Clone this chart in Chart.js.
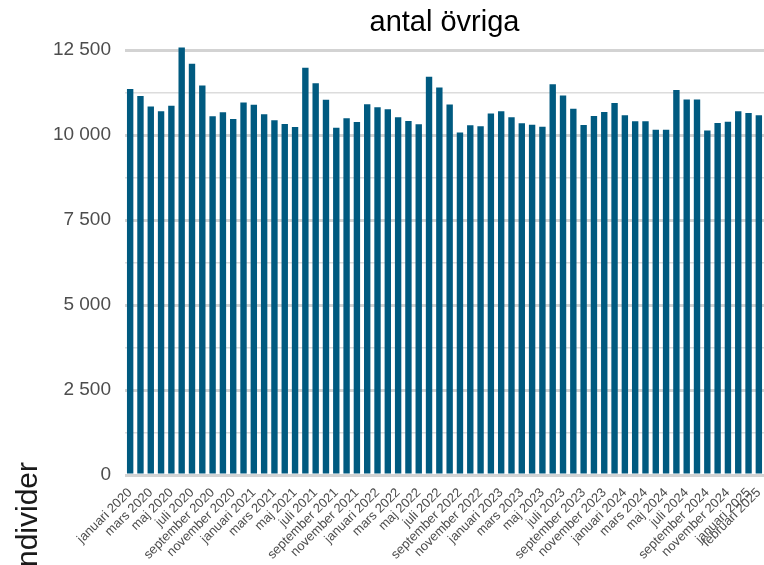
<!DOCTYPE html>
<html lang="sv">
<head>
<meta charset="UTF-8">
<title>antal övriga</title>
<script src="https://cdn.jsdelivr.net/npm/chart.js@4/dist/chart.umd.min.js"></script>
<style>
  html, body { margin: 0; padding: 0; background: #fff; }
  .wrap { width: 764px; height: 565px; }
</style>
</head>
<body>
<div class="wrap"><canvas id="grafico"></canvas></div>
<script>
// månader jan 2020 - feb 2025
var manader = ['januari', 'februari', 'mars', 'april', 'maj', 'juni', 'juli',
               'augusti', 'september', 'oktober', 'november', 'december'];
var ar = [2020, 2021, 2022, 2023, 2024, 2025];

var antal = [
  11360, 11150, 10840, 10705, 10863, 12580, 12104, 11458, 10556, 10675, 10476, 10962,
  10893, 10615, 10437, 10327, 10238, 11985, 11527, 11042, 10218, 10496, 10387, 10913,
  10824, 10765, 10527, 10417, 10318, 11717, 11399, 10903, 10080, 10289, 10259, 10635,
  10705, 10527, 10348, 10307, 10248, 11498, 11170, 10774, 10298, 10566, 10685, 10943,
  10586, 10408, 10408, 10158, 10158, 11330, 11051, 11051, 10140, 10357, 10396, 10705,
  10655, 10586
];

var yTicks = [0, 1250, 2500, 3750, 5000, 6250, 7500, 8750, 10000, 11250, 12500];

var etiketter = [];
for (var i = 0; i < antal.length; i++) {
  etiketter.push(manader[i % 12] + ' ' + ar[Math.floor(i / 12)]);
}

function tusental(v) {
  return String(v).replace(/\B(?=(\d{3})+(?!\d))/g, ' ');
}

// y-axelns titel, delvis utanför bilden som i originalet
var yTitel = {
  id: 'yTitel',
  afterDraw: function (chart) {
    var ctx = chart.ctx;
    ctx.save();
    ctx.translate(37, 462);
    ctx.rotate(-Math.PI / 2);
    ctx.font = '30px "Liberation Sans", Arial, sans-serif';
    ctx.fillStyle = '#1a1a1a';
    ctx.textAlign = 'right';
    ctx.textBaseline = 'alphabetic';
    ctx.fillText('individer', 0, 0);
    ctx.restore();
  }
};

var ctx = document.getElementById('grafico').getContext('2d');
new Chart(ctx, {
  type: 'bar',
  data: {
    labels: etiketter,
    datasets: [{
      label: 'antal',
      data: antal,
      backgroundColor: '#005a80',
      barPercentage: 0.62,
      categoryPercentage: 1.0
    }]
  },
  options: {
    responsive: true,
    maintainAspectRatio: false,
    animation: false,
    layout: { padding: 0 },
    plugins: {
      legend: { display: false },
      tooltip: { enabled: false },
      title: {
        display: true,
        text: 'antal övriga',
        fullSize: false,
        color: '#000',
        font: { family: '"Liberation Sans", Arial, sans-serif', size: 29, weight: 'normal', lineHeight: 1.2 },
        padding: { top: 6, bottom: 6 }
      }
    },
    scales: {
      x: {
        grid: { display: false },
        border: { display: false },
        ticks: {
          autoSkip: false,
          maxRotation: 45,
          minRotation: 45,
          padding: 2,
          color: '#4d4d4d',
          font: { family: '"Liberation Sans", Arial, sans-serif', size: 13 },
          callback: function (val, idx) {
            if (idx % 2 === 0 || idx === antal.length - 1) return etiketter[idx];
            return '';
          }
        },
        afterFit: function (scale) {
          scale.height = 90;
          scale.paddingLeft = 0;
          scale.paddingRight = 0;
        }
      },
      y: {
        min: 0,
        max: 12600,
        border: { display: false },
        grid: {
          drawTicks: false,
          color: function (c) { return c.tick && c.tick.value % 2500 === 0 ? '#d3d3d3' : '#dcdcdc'; },
          lineWidth: function (c) { return c.tick && c.tick.value % 2500 === 0 ? 3 : 1.6; }
        },
        ticks: {
          padding: 14,
          color: '#4d4d4d',
          font: { family: '"Liberation Sans", Arial, sans-serif', size: 19 },
          callback: function (v) { return v % 2500 === 0 ? tusental(v) : ''; }
        },
        afterBuildTicks: function (scale) {
          scale.ticks = yTicks.map(function (v) { return { value: v }; });
        },
        afterFit: function (scale) {
          scale.width = 125;
          scale.paddingTop = 0;
          scale.paddingBottom = 0;
        }
      }
    }
  },
  plugins: [yTitel]
});
</script>
</body>
</html>
